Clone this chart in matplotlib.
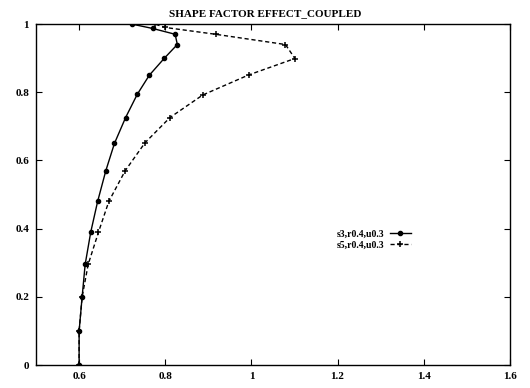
import matplotlib
matplotlib.use("Agg")
import matplotlib.pyplot as plt

# s3 series (solid line, round markers)
y_s3 = [0.0, 0.1, 0.2, 0.295, 0.39, 0.48, 0.57, 0.65, 0.726, 0.794, 0.85, 0.9, 0.94, 0.97, 0.987, 1.0]
x_s3 = [0.60, 0.60, 0.607, 0.614, 0.627, 0.643, 0.662, 0.682, 0.708, 0.735, 0.763, 0.798, 0.828, 0.823, 0.771, 0.722]

# s5 series (dashed line, plus markers)
y_s5 = [0.0, 0.1, 0.2, 0.295, 0.39, 0.48, 0.57, 0.652, 0.726, 0.792, 0.851, 0.899, 0.94, 0.97, 0.99, 1.0]
x_s5 = [0.60, 0.60, 0.607, 0.621, 0.645, 0.669, 0.707, 0.753, 0.811, 0.887, 0.994, 1.101, 1.079, 0.917, 0.80, 0.776]

labels = ["s3,r0.4,u0.3", "s5,r0.4,u0.3"]
title = "SHAPE FACTOR EFFECT_COUPLED"
xticks = [0.6, 0.8, 1.0, 1.2, 1.4, 1.6]
xticklabels = ["0.6", "0.8", "1", "1.2", "1.4", "1.6"]
yticks = [0, 0.2, 0.4, 0.6, 0.8, 1.0]
yticklabels = ["0", "0.2", "0.4", "0.6", "0.8", "1"]

plt.rcParams["font.family"] = ["Liberation Serif", "DejaVu Serif"]
plt.rcParams["font.weight"] = "bold"

fig = plt.figure(figsize=(5.30, 3.88), dpi=100)
ax = fig.add_axes([0.068, 0.059, 0.894, 0.879])

ax.plot(x_s3, y_s3, color="black", linestyle="-", linewidth=1.0,
        marker="o", markersize=3, label=labels[0])
ax.plot(x_s5, y_s5, color="black", linestyle=(0, (3, 2)), linewidth=1.0,
        marker="+", markersize=4.5, markeredgewidth=1.1, label=labels[1])

ax.set_xlim(0.5, 1.6)
ax.set_ylim(0, 1)
ax.set_xticks(xticks)
ax.set_xticklabels(xticklabels)
ax.set_yticks(yticks)
ax.set_yticklabels(yticklabels)
ax.tick_params(direction="in", top=True, right=True, length=4, width=0.8,
               labelsize=8, pad=5)
for s in ax.spines.values():
    s.set_linewidth(1.0)

fig.text(0.5, 0.965, title, ha="center", va="center", fontsize=8, weight="bold")

ax.legend(loc="upper right", bbox_to_anchor=(0.785, 0.42), bbox_transform=fig.transFigure,
          frameon=False, markerfirst=False, fontsize=7, handlelength=2.2,
          handletextpad=0.6, labelspacing=0.2, borderpad=0)

fig.savefig("out.png", dpi=100)
